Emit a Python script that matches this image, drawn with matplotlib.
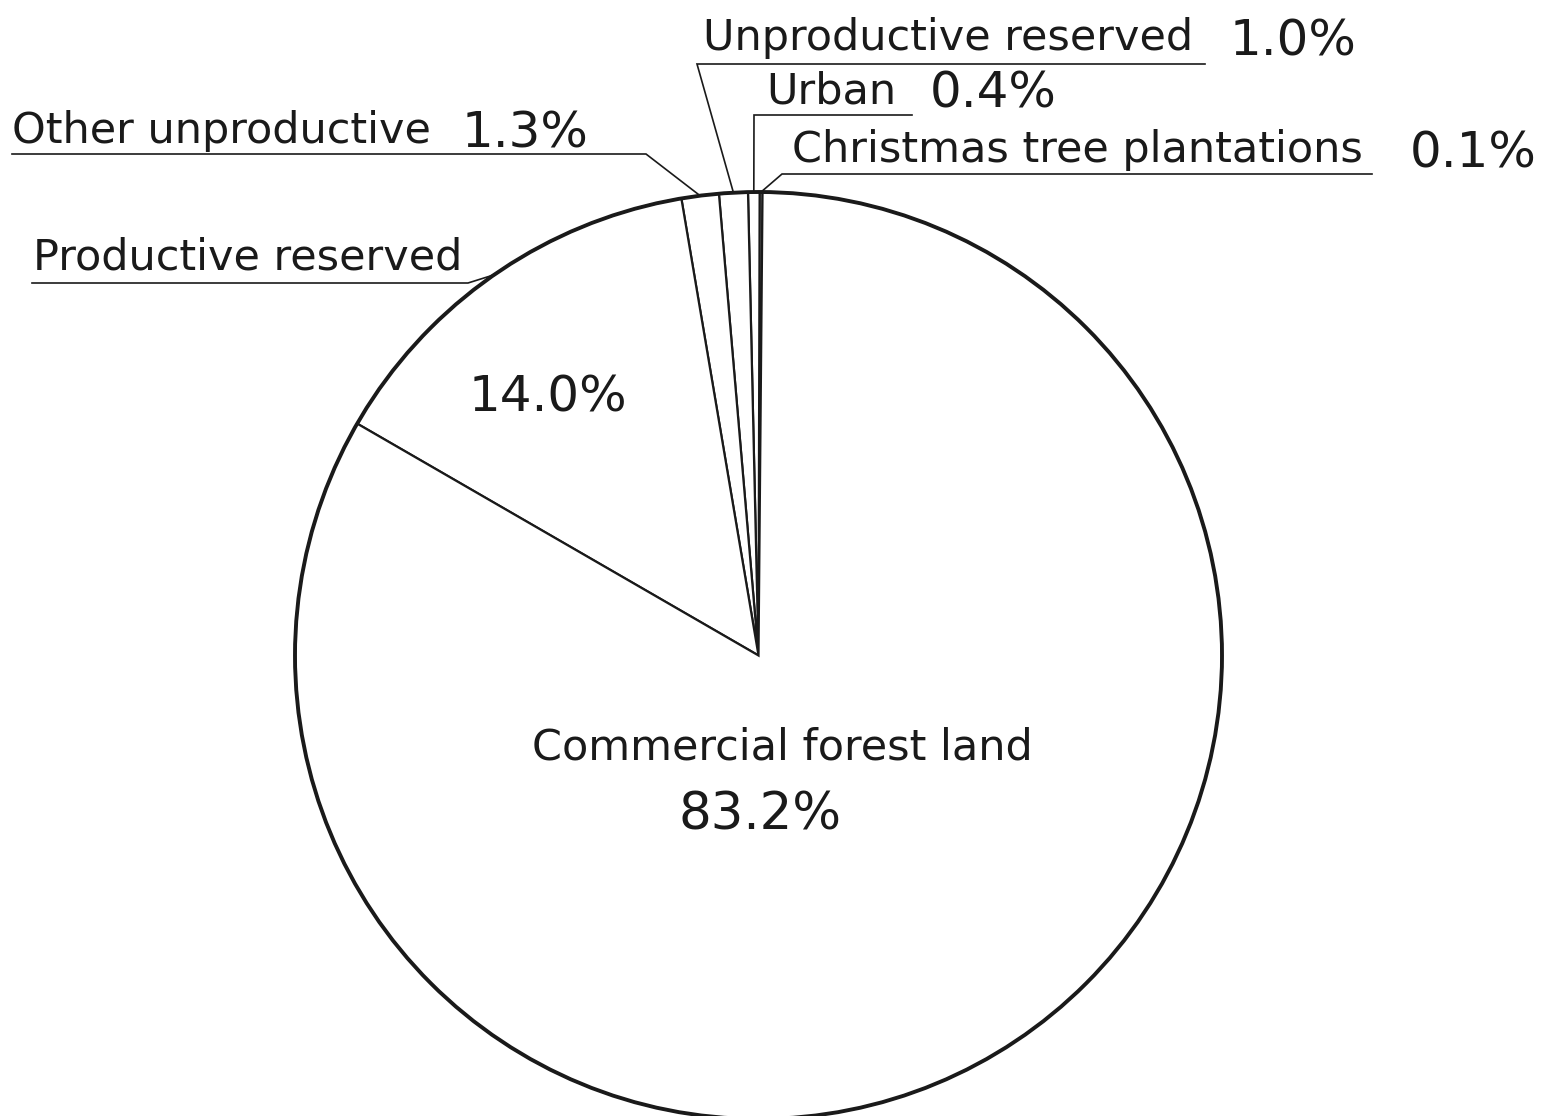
import numpy as np
import matplotlib
matplotlib.use('Agg')
import matplotlib.pyplot as plt

plt.rcParams['font.family'] = ['DejaVu Sans']

W, H = 1559, 1116

# data
categories = ['Christmas tree plantations', 'Urban', 'Unproductive reserved',
              'Other unproductive', 'Productive reserved', 'Commercial forest land']
shares = [0.1, 0.4, 1.0, 1.3, 14.0, 83.2]

# layout (pixel coords, y measured from top)
cx, cy, radius = 758.5, 655.5, 463.5
start_angle = 89.5

# outside labels: text x, baseline y, pct x, underline x0, x1, underline y
outside = {
    'Unproductive reserved': (703, 50, 1230, 697, 1205, 64),
    'Urban': (766, 103, 930, 754, 912, 115),
    'Christmas tree plantations': (792, 162, 1410, 782, 1372, 174),
    'Other unproductive': (12, 143, 462, 12, 646, 154),
    'Productive reserved': (33, 270, None, 32, 468, 283),
}
right_side = ('Unproductive reserved', 'Urban', 'Christmas tree plantations')


def fy(y):
    return H - y


fig = plt.figure(figsize=(W / 100, H / 100), dpi=100)
ax = fig.add_axes([0, 0, 1, 1])

wedges, _ = ax.pie(shares, startangle=start_angle, counterclock=True,
                   center=(cx, fy(cy)), radius=radius,
                   wedgeprops=dict(facecolor='white', edgecolor='#1a1a1a', linewidth=1.6))
ax.add_patch(plt.Circle((cx, fy(cy)), radius, fill=False, edgecolor='#1a1a1a', linewidth=2.8))

ax.set_xlim(0, W)
ax.set_ylim(0, H)
ax.set_aspect('equal')
ax.set_axis_off()

lab_fs = 31
pct_fs = 36

for w, name, val in zip(wedges, categories, shares):
    if name not in outside:
        continue
    tx, ty, px, ux0, ux1, uy = outside[name]
    ang = np.deg2rad((w.theta1 + w.theta2) / 2)
    ex = cx + radius * np.cos(ang)
    ey = fy(cy) + radius * np.sin(ang)
    ax.text(tx, fy(ty), name, fontsize=lab_fs, ha='left', va='baseline', color='#1a1a1a')
    if px is not None:
        ax.text(px, fy(ty + 5), f'{val:.1f}%', fontsize=pct_fs, ha='left', va='baseline', color='#1a1a1a')
    # underline, then leader down to the wedge edge
    xs = [ux1, ux0, ex] if name in right_side else [ux0, ux1, ex]
    ax.plot(xs, [fy(uy), fy(uy), ey], color='#1a1a1a', linewidth=1.2, solid_joinstyle='miter')

# inside labels
ax.text(548, fy(397), f'{shares[4]:.1f}%', fontsize=pct_fs, ha='center', va='center', color='#1a1a1a')
ax.text(782, fy(748), categories[5], fontsize=lab_fs, ha='center', va='center', color='#1a1a1a')
ax.text(760, fy(815), f'{shares[5]:.1f}%', fontsize=pct_fs + 1, ha='center', va='center', color='#1a1a1a')

fig.savefig('out.png', dpi=100, facecolor='white')
